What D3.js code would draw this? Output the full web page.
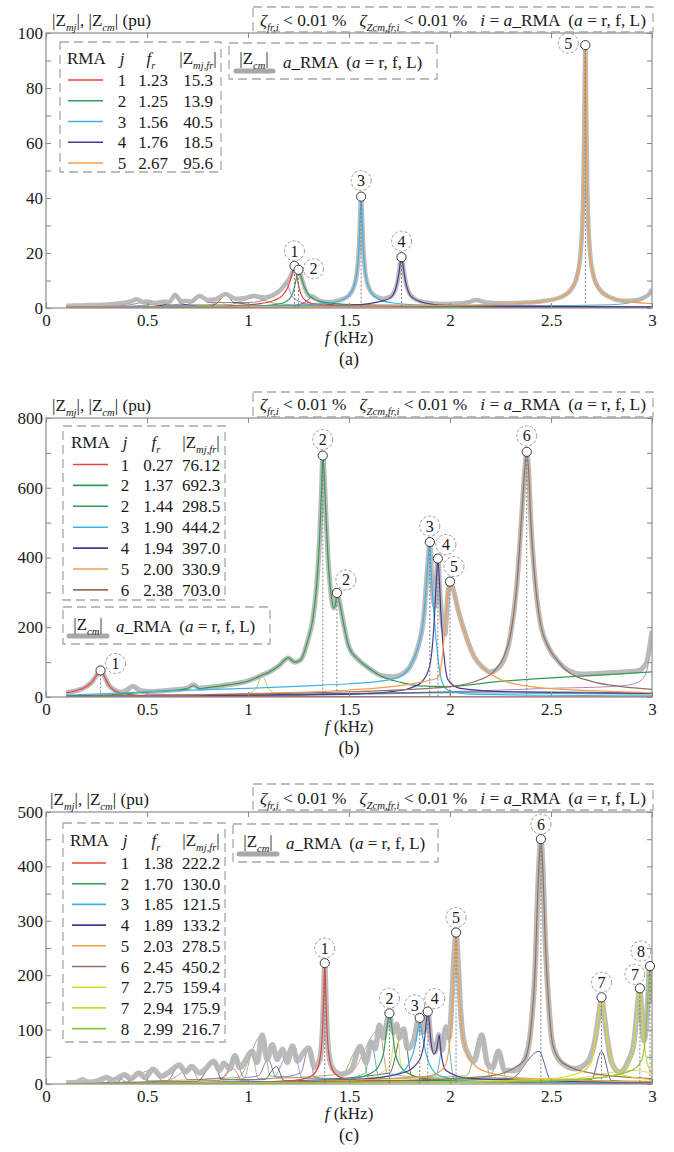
<!DOCTYPE html>
<html><head><meta charset="utf-8">
<script src="https://cdn.jsdelivr.net/npm/d3@7"></script>
<style>
body{margin:0;background:#fff}
svg text{font-family:"Liberation Serif","Times New Roman",serif;fill:#1a1a1a}
</style></head>
<body><svg id="chart" width="674" height="1152"></svg>
<script>
// ---------------- DATA ----------------
const xTicks = [0, 0.5, 1, 1.5, 2, 2.5, 3];
const xTickText = ["0", "0.5", "1", "1.5", "2", "2.5", "3"];

// Panel (a)
const aYMax = 100, aYMajor = [0, 20, 40, 60, 80, 100], aYMinorStep = 10;
const aRMA = [1, 2, 3, 4, 5];
const aFr = [1.23, 1.25, 1.56, 1.76, 2.67];
const aZfr = [15.3, 13.9, 40.5, 18.5, 95.6];
const aCurve1 = [[0.1,0.2],[0.6,0.4],[0.9,0.8],[1.05,1.5],[1.13,2.8],[1.17,4.5],[1.2,8],[1.215,11.5],[1.225,14.2],[1.23,15.3],[1.235,14.2],[1.245,10],[1.26,5.5],[1.28,3],[1.32,1.6],[1.45,0.8],[2,0.4],[3,0.2]];
const aCurve2 = [[0.1,0.2],[0.9,0.5],[1.1,1],[1.18,2],[1.22,5],[1.24,11],[1.25,13.9],[1.26,12],[1.28,7.5],[1.31,4],[1.35,2.5],[1.45,1.5],[1.6,1],[2,0.6],[3,0.4]];
const aCurve3 = [[0.1,0.3],[1.0,0.7],[1.3,1.2],[1.42,2],[1.48,3.5],[1.51,5.6],[1.53,9.2],[1.54,13.3],[1.55,23.2],[1.555,33],[1.56,40.5],[1.565,33],[1.57,23.2],[1.58,13.3],[1.59,9.2],[1.61,5.6],[1.64,3.5],[1.71,1.9],[1.9,1],[2.5,0.6],[3,0.5]];
const aCurve4 = [[0.1,0.2],[1.2,0.6],[1.5,1],[1.6,1.6],[1.66,2.5],[1.7,3.5],[1.72,5],[1.736,8.3],[1.748,13.1],[1.754,16.5],[1.76,18.5],[1.766,16.5],[1.772,13.1],[1.784,8.3],[1.8,5],[1.82,3.5],[1.86,2.2],[1.96,1.1],[2.3,0.6],[3,0.4]];
const aCurve5 = [[0.1,0.3],[0.8,0.4],[1.5,0.7],[2.0,1.0],[2.3,1.5],[2.45,2.2],[2.55,4.0],[2.6,6.8],[2.63,11.9],[2.645,18.7],[2.655,30.2],[2.66,42.7],[2.665,67.6],[2.6675,85.5],[2.67,95.6],[2.6725,85.5],[2.675,67.6],[2.68,42.7],[2.685,30.2],[2.695,18.7],[2.71,11.9],[2.74,6.8],[2.79,4.0],[2.88,2.3],[3.0,1.6]];
const aGray = [[0.1,0.8],[0.2,1.0],[0.3,1.3],[0.38,1.8],[0.42,2.4],[0.45,3.2],[0.48,2.2],[0.5,2.4],[0.54,1.8],[0.58,2.3],[0.61,2.2],[0.64,4.8],[0.67,2.3],[0.69,2.6],[0.72,2.4],[0.76,4.4],[0.8,3.0],[0.84,3.2],[0.89,5.1],[0.94,3.3],[0.98,3.6],[1.03,4.4],[1.08,3.8],[1.12,4.5],[1.16,6.5],[1.19,9.2],[1.21,11.5],[1.225,14.2],[1.23,15.3],[1.24,13.2],[1.25,13.9],[1.26,12],[1.28,7.5],[1.3,4.5],[1.32,4.2],[1.35,2.8],[1.4,2.2],[1.45,2.8],[1.48,3.6],[1.51,5.6],[1.53,9.2],[1.54,13.3],[1.55,23.2],[1.555,33],[1.56,40.5],[1.565,33],[1.57,23.2],[1.58,13.3],[1.59,9.2],[1.61,5.8],[1.64,4.0],[1.67,3.4],[1.7,4.0],[1.72,5.2],[1.736,8.3],[1.748,13.1],[1.754,16.5],[1.76,18.5],[1.766,16.5],[1.772,13.1],[1.784,8.3],[1.8,5.2],[1.82,3.6],[1.86,2.3],[1.95,1.5],[2.05,1.6],[2.1,2.3],[2.13,2.9],[2.17,2.2],[2.25,1.7],[2.35,1.9],[2.45,2.4],[2.55,4.0],[2.6,6.8],[2.63,11.9],[2.645,18.7],[2.655,30.2],[2.66,42.7],[2.665,67.6],[2.6675,85.5],[2.67,95.6],[2.6725,85.5],[2.675,67.6],[2.68,42.7],[2.685,30.2],[2.695,18.7],[2.71,11.9],[2.74,6.8],[2.79,4.0],[2.86,2.6],[2.92,2.8],[2.96,3.8],[2.99,5.5],[3.0,6.8]];
const aExtraGreen = [[0.1,0.3],[0.35,1],[0.42,2],[0.45,3.1],[0.48,1.5],[0.6,1],[0.67,1.6],[0.69,2.5],[0.72,1.2],[0.9,1.2],[0.99,3],[1.03,3.9],[1.07,3],[1.15,1.5],[1.4,0.8],[3,0.3]];
const aExtraPurple = [[0.1,0.2],[0.4,1],[0.5,2.2],[0.55,1],[0.7,1.2],[0.76,4.3],[0.8,2],[1.0,2],[1.12,4],[1.19,9],[1.22,4],[1.3,1.5],[2.0,1],[2.13,2.7],[2.2,1],[3,0.5]];
const aExtraBlack = [[0.5,0.3],[0.6,1.5],[0.64,5],[0.67,1.5],[0.8,0.6],[0.85,2],[0.89,5],[0.93,2],[1.2,0.6],[1.28,2],[1.32,4],[1.36,2],[1.5,0.5]];
const aExtraBlue = [[0.1,0.2],[0.5,1],[0.58,2],[0.62,1],[1.0,0.5],[3,0.3]];
const aExtraOlive = [[0.7,0.4],[0.8,1],[0.86,2.2],[0.9,1],[1.0,0.5]];
const aExtraTeal = [[0.1,0.1],[2.0,0.5],[2.8,1.2],[2.95,3],[3.0,6.5]];

// Panel (b)
const bYMax = 800, bYMajor = [0, 200, 400, 600, 800], bYMinorStep = 100;
const bRMA = [1, 2, 2, 3, 4, 5, 6];
const bFr = [0.27, 1.37, 1.44, 1.90, 1.94, 2.00, 2.38];
const bZfr = [76.12, 692.3, 298.5, 444.2, 397.0, 330.9, 703.0];
const bZfrText = ["76.12", "692.3", "298.5", "444.2", "397.0", "330.9", "703.0"];
const bCurveRed = [[0.1,12],[0.15,18],[0.2,30],[0.23,45],[0.25,62],[0.265,74],[0.27,76.1],[0.28,70],[0.29,58],[0.31,35],[0.34,18],[0.4,8],[0.5,4],[0.8,2],[1.5,1],[3,0.5]];
const bCurveGreen = [[0.1,3],[0.3,6],[0.45,12],[0.55,16],[0.65,20],[0.7,24],[0.73,33],[0.76,24],[0.8,27],[0.9,35],[1.0,45],[1.04,55],[1.07,63],[1.1,70],[1.15,88],[1.2,112],[1.23,100],[1.26,106],[1.3,170],[1.32,220],[1.34,320],[1.355,460],[1.365,610],[1.37,692.3],[1.375,660],[1.385,530],[1.395,410],[1.41,300],[1.425,255],[1.435,275],[1.44,298.5],[1.45,280],[1.47,220],[1.5,143],[1.55,105],[1.59,86],[1.67,57],[1.75,43],[1.85,32],[2.0,30],[2.2,42],[2.5,55],[2.8,65],[3.0,72]];
const bCurveBlue = [[0.1,5],[0.5,15],[1.0,25],[1.3,32],[1.5,38],[1.6,42],[1.7,50],[1.75,58],[1.8,85],[1.84,140],[1.87,230],[1.89,380],[1.9,444.2],[1.905,380],[1.915,280],[1.93,172],[1.945,90],[1.96,45],[1.99,20],[2.1,8],[2.5,5],[3,3]];
const bCurvePurple = [[0.1,2],[0.5,3],[1.0,5],[1.5,8],[1.7,15],[1.8,25],[1.86,43],[1.9,90],[1.92,200],[1.935,360],[1.94,397],[1.945,360],[1.955,240],[1.97,120],[1.99,50],[2.05,25],[2.3,15],[3,10]];
const bCurveOrange = [[0.1,1],[1.0,10],[1.5,20],[1.83,40],[1.94,55],[1.96,105],[1.98,230],[1.993,315],[2.0,330.9],[2.01,320],[2.04,250],[2.08,173],[2.12,115],[2.16,86],[2.25,50],[2.4,30],[2.7,18],[3,12]];
const bCurveBrown = [[0.1,1],[1.0,8],[1.5,15],[2.0,30],[2.15,50],[2.22,75],[2.27,120],[2.3,180],[2.33,316],[2.355,520],[2.37,650],[2.38,703],[2.39,640],[2.4,507],[2.42,340],[2.445,220],[2.49,140],[2.53,106],[2.59,70],[2.7,45],[2.85,30],[3,22]];
const bGray = [[0.1,12],[0.15,18],[0.2,30],[0.23,45],[0.25,62],[0.265,74],[0.27,76.1],[0.28,70],[0.29,58],[0.31,35],[0.34,20],[0.37,14],[0.4,20],[0.43,31],[0.47,18],[0.52,16],[0.6,19],[0.7,25],[0.73,35],[0.76,25],[0.8,27],[0.9,35],[1.0,46],[1.04,55],[1.07,63],[1.1,70],[1.15,88],[1.2,112],[1.23,100],[1.26,106],[1.3,170],[1.32,220],[1.34,320],[1.355,460],[1.365,610],[1.37,692.3],[1.375,660],[1.385,530],[1.395,410],[1.41,300],[1.425,255],[1.435,275],[1.44,298.5],[1.45,280],[1.47,220],[1.5,143],[1.55,105],[1.59,86],[1.67,60],[1.72,58],[1.76,65],[1.8,85],[1.84,140],[1.87,230],[1.89,380],[1.9,444.2],[1.91,330],[1.925,260],[1.935,360],[1.94,397],[1.95,300],[1.965,200],[1.975,180],[1.99,300],[2.0,330.9],[2.01,320],[2.04,250],[2.08,173],[2.12,115],[2.16,86],[2.2,72],[2.25,90],[2.3,180],[2.33,316],[2.355,520],[2.37,650],[2.38,703],[2.39,640],[2.4,507],[2.42,340],[2.445,220],[2.49,140],[2.53,106],[2.59,75],[2.65,66],[2.8,70],[2.93,75],[2.97,95],[3.0,190]];
const bExtraPurple = [[0.1,2],[0.35,5],[0.4,15],[0.43,31],[0.46,15],[0.5,8],[0.8,6],[1.5,10],[2.0,15],[2.5,25],[2.8,30],[2.9,36],[2.95,50],[2.98,90],[3.0,190]];
const bExtraOlive = [[0.8,3],[1.0,10],[1.04,25],[1.07,63],[1.1,25],[1.15,8],[1.3,3]];
const bExtraNavy = [[0.1,1],[1.0,6],[1.8,12],[2.2,15],[2.6,14],[3.0,12]];
const bExtraTeal = [[0.1,1],[0.9,4],[1.5,7],[2.0,12],[2.5,10],[3.0,8]];

// Panel (c)
const cYMax = 500, cYMajor = [0, 100, 200, 300, 400, 500], cYMinorStep = 50;
const cRMA = [1, 2, 3, 4, 5, 6, 7, 7, 8];
const cFr = [1.38, 1.70, 1.85, 1.89, 2.03, 2.45, 2.75, 2.94, 2.99];
const cZfr = [222.2, 130.0, 121.5, 133.2, 278.5, 450.2, 159.4, 175.9, 216.7];
const cCurve1 = [[0.1,0.5],[0.8,2],[1.2,6],[1.3,12],[1.34,25],[1.36,55],[1.37,110],[1.375,165],[1.38,222.2],[1.385,165],[1.39,110],[1.4,55],[1.42,25],[1.46,12],[1.6,5],[2,3],[3,1]];
const cCurve2 = [[0.1,0.5],[1.0,3],[1.4,6],[1.55,12],[1.63,25],[1.67,55],[1.69,110],[1.7,130],[1.71,110],[1.73,55],[1.77,25],[1.85,12],[2.0,6],[2.5,3],[3,2]];
const cCurve3 = [[0.1,0.5],[1.2,4],[1.6,10],[1.75,20],[1.8,40],[1.83,75],[1.845,110],[1.85,121.5],[1.855,110],[1.87,75],[1.9,35],[1.95,15],[2.1,6],[3,2]];
const cCurve4 = [[0.1,0.5],[1.2,4],[1.6,10],[1.78,22],[1.85,45],[1.875,85],[1.885,122],[1.89,133.2],[1.895,122],[1.905,80],[1.92,55],[1.935,65],[1.946,90],[1.955,60],[1.98,25],[2.1,10],[3,3]];
const cCurve5 = [[0.1,0.5],[1.0,3],[1.6,8],[1.9,15],[1.97,30],[2.0,80],[2.015,170],[2.025,250],[2.03,278.5],[2.035,250],[2.045,170],[2.06,100],[2.08,60],[2.12,35],[2.2,20],[2.4,10],[3,4]];
const cCurve6 = [[0.1,0.5],[1.5,5],[2.0,10],[2.2,15],[2.32,30],[2.37,45],[2.4,100],[2.42,200],[2.44,400],[2.45,450.2],[2.46,390],[2.47,280],[2.49,140],[2.51,70],[2.56,38],[2.7,20],[3,10]];
const cCurve7 = [[0.1,0.3],[2.0,4],[2.5,10],[2.65,22],[2.7,40],[2.72,85],[2.74,135],[2.75,159.4],[2.76,135],[2.78,80],[2.8,40],[2.85,18],[2.95,10],[3,8]];
const cCurve7b = [[0.1,0.3],[2.0,3],[2.6,8],[2.8,15],[2.88,35],[2.91,75],[2.925,130],[2.935,165],[2.94,175.9],[2.945,155],[2.955,100],[2.97,50],[2.99,25],[3,20]];
const cCurve8 = [[0.1,0.3],[2.2,4],[2.7,10],[2.9,25],[2.95,45],[2.97,100],[2.98,160],[2.99,216.7],[2.995,190],[3.0,150]];
const cGray = [[0.1,2],[0.15,3],[0.18,8],[0.21,3],[0.26,6],[0.3,12],[0.33,7],[0.36,12],[0.39,17],[0.42,10],[0.46,20],[0.49,12],[0.53,27],[0.57,14],[0.61,22],[0.66,35],[0.69,22],[0.72,32],[0.76,20],[0.79,28],[0.83,42],[0.86,25],[0.88,38],[0.91,28],[0.935,52],[0.96,30],[0.99,45],[1.02,60],[1.045,40],[1.07,90],[1.095,45],[1.12,72],[1.145,45],[1.17,64],[1.195,40],[1.22,70],[1.245,42],[1.27,55],[1.3,66],[1.33,30],[1.355,45],[1.37,110],[1.375,165],[1.38,222.2],[1.385,165],[1.39,110],[1.4,55],[1.42,28],[1.46,18],[1.51,25],[1.555,69],[1.585,40],[1.61,77],[1.63,65],[1.65,108],[1.67,85],[1.69,118],[1.7,130],[1.71,108],[1.72,95],[1.736,110],[1.75,85],[1.77,101],[1.79,65],[1.82,80],[1.84,115],[1.85,121.5],[1.86,95],[1.875,100],[1.89,133.2],[1.905,80],[1.925,60],[1.946,90],[1.96,62],[1.98,105],[1.995,85],[2.01,160],[2.02,235],[2.03,278.5],[2.04,225],[2.05,150],[2.065,85],[2.09,55],[2.12,42],[2.157,90],[2.185,38],[2.21,30],[2.24,60],[2.27,25],[2.32,25],[2.37,45],[2.4,100],[2.42,200],[2.44,400],[2.45,450.2],[2.46,390],[2.47,280],[2.49,140],[2.51,70],[2.55,40],[2.62,28],[2.68,40],[2.72,85],[2.74,135],[2.75,159.4],[2.76,135],[2.78,80],[2.8,40],[2.84,22],[2.88,40],[2.91,75],[2.925,130],[2.935,165],[2.94,175.9],[2.95,115],[2.96,80],[2.97,100],[2.98,160],[2.99,216.7],[2.995,190],[3.0,150]];
const cExtraPurple = [[0.1,0],[0.3,3],[0.36,12],[0.4,3],[0.6,6],[0.66,33],[0.7,8],[0.88,12],[0.935,50],[0.98,12],[1.05,15],[1.1,45],[1.14,12],[1.26,20],[1.3,66],[1.33,12],[1.6,6],[2.0,4],[3,2]];
const cExtraOlive = [[0.1,0],[0.4,4],[0.46,20],[0.5,6],[0.95,12],[1.07,90],[1.11,15],[1.45,10],[1.555,69],[1.6,10],[2.08,15],[2.157,90],[2.2,12],[3,5]];
const cExtraBlack = [[0.2,0],[0.35,2],[0.39,15],[0.42,3],[0.75,5],[0.83,41],[0.87,8],[1.08,8],[1.14,32],[1.18,6],[1.7,20],[1.77,101],[1.81,15],[2.0,5],[3,2]];
const cExtraBlue = [[0.5,0],[1.12,10],[1.22,69],[1.27,10],[1.8,6],[2.2,12],[2.24,60],[2.28,10],[3,3]];
const cExtraTeal = [[1.4,3],[1.58,20],[1.61,77],[1.65,10],[1.93,15],[1.98,105],[2.02,10],[3,4]];
const cExtraTan = [[0.4,0],[0.6,6],[0.72,28],[0.76,6],[0.98,10],[1.02,55],[1.05,10],[1.5,20],[1.65,100],[1.69,20],[2.0,8]];
const cExtraNavy = [[0.1,0],[1.5,5],[2.3,10],[2.44,60],[2.5,8],[2.7,8],[2.75,60],[2.8,6],[3,3]];
const cExtraRed = [[0.4,0],[0.53,26],[0.58,4],[0.85,6],[0.93,28],[0.97,5],[1.2,3]];
const cExtraYellow = [[1.5,3],[1.7,30],[1.735,105],[1.76,30],[1.9,8],[2.6,10],[2.9,25],[3,20]];

// ---------------- STYLE / LAYOUT ----------------
const C = {red:"#e8453f", green:"#2f9d58", blue:"#3cb3e6", purple:"#4a3a8e", orange:"#f59e48",
  brown:"#94705a", yellow:"#e0d626", yellow2:"#d2d92e", lgreen:"#8cc63f"};
const FONT = '"Liberation Serif","Times New Roman",serif';
const X0 = 46, X1 = 652;

const panels = [
 { name:"(a)", top:33, bottom:308, ymax:aYMax, major:aYMajor, minor:aYMinorStep,
   rma:aRMA, fr:aFr, zfr:aZfr, ztext:aZfr.map(d=>d.toFixed(1)),
   curves:[aCurve1,aCurve2,aCurve3,aCurve4,aCurve5], colors:[C.red,C.green,C.blue,C.purple,C.orange],
   gray:aGray, grayW:4.5,
   extras:[[aExtraGreen,"#5fae4e"],[aExtraPurple,"#8a5aa8"],[aExtraBlack,"#333"],[aExtraBlue,"#4a7fc0"],[aExtraOlive,"#b8a030"],[aExtraTeal,"#2a9a96"]],
   offsets:[[0,-15],[15,-1],[0,-16],[0,-16],[-17,-2]],
   zeta:{box:[253,7,653,32], base:26},
   ylab:{x:52, y:26},
   leg:{box:[60,42,221,172], head:64, row0:86, step:20.75, line:[68,103], rma:67, j:122, f:153, z:198},
   leg2:{box:[229,43,437,79], line:[236,273,71], zc:[254,64], ar:[283,68]} },
 { name:"(b)", top:418, bottom:697, ymax:bYMax, major:bYMajor, minor:bYMinorStep,
   rma:bRMA, fr:bFr, zfr:bZfr, ztext:bZfrText,
   curves:[bCurveRed,bCurveGreen,bCurveGreen,bCurveBlue,bCurvePurple,bCurveOrange,bCurveBrown],
   colors:[C.red,C.green,C.green,C.blue,C.purple,C.orange,C.brown],
   gray:bGray, grayW:5,
   extras:[[bExtraPurple,"#9b5fb5"],[bExtraOlive,"#b5b04a"],[bExtraNavy,"#2b3a7a"],[bExtraTeal,"#2a9a96"]],
   offsets:[[15,-7],[0,-16],[9,-13],[0,-16],[8,-14],[4,-15],[0,-16]],
   zeta:{box:[253,392,653,417], base:410},
   ylab:{x:52, y:411},
   leg:{box:[63,426,225,600], head:448, row0:470.5, step:20.9, line:[73,108], rma:71, j:125, f:158, z:201},
   leg2:{box:[63,607,270,644], line:[69,107,636], zc:[88,630], ar:[116,632]} },
 { name:"(c)", top:812, bottom:1084, ymax:cYMax, major:cYMajor, minor:cYMinorStep,
   rma:cRMA, fr:cFr, zfr:cZfr, ztext:cZfr.map(d=>d.toFixed(1)),
   curves:[cCurve1,cCurve2,cCurve3,cCurve4,cCurve5,cCurve6,cCurve7,cCurve7b,cCurve8],
   colors:[C.red,C.green,C.blue,C.purple,C.orange,C.brown,C.yellow,C.yellow2,C.lgreen],
   gray:cGray, grayW:5.5,
   extras:[[cExtraPurple,"#7b4fa3"],[cExtraOlive,"#6aa84f"],[cExtraBlack,"#333"],[cExtraBlue,"#5b8fd0"],[cExtraTeal,"#2aa198"],[cExtraTan,"#b08a60"],[cExtraNavy,"#1f2d7b"],[cExtraRed,"#e06050"],[cExtraYellow,"#d8d030"]],
   offsets:[[0,-15],[0,-15],[-5,-13],[7,-13],[0,-15],[0,-15],[0,-15],[-5,-14],[-9,-15]],
   zeta:{box:[253,784,653,810], base:804},
   ylab:{x:50, y:805},
   leg:{box:[63,823,225,1042], head:846, row0:869, step:20.7, line:[72,106], rma:70, j:125, f:158, z:201},
   leg2:{box:[233,824,438,862], line:[239,277,854], zc:[258,847], ar:[286,849]} }
];

// ---------------- HELPERS ----------------
const svg = d3.select("#chart");
function rich(g, x, y, parts, o = {}) {
  const fs = o.fs || 17;
  const t = g.append("text").attr("x", x).attr("y", y).attr("font-size", fs)
    .attr("text-anchor", o.anchor || "start").style("white-space", "pre");
  let sub = false;
  parts.forEach(p => {
    const s = t.append("tspan").text(p.t);
    if (p.i) s.attr("font-style", "italic");
    if (p.s && !sub) { s.attr("dy", fs * 0.3); sub = true; }
    else if (!p.s && sub) { s.attr("dy", -fs * 0.3); sub = false; }
    if (p.s) s.attr("font-size", fs * 0.62);
  });
  if (o.len) t.attr("textLength", o.len).attr("lengthAdjust", "spacingAndGlyphs");
  return t;
}
function dashedBox(g, b) {
  g.append("rect").attr("x", b[0]).attr("y", b[1]).attr("width", b[2] - b[0]).attr("height", b[3] - b[1])
    .attr("fill", "none").attr("stroke", "#a8a8a8").attr("stroke-width", 1.3).attr("stroke-dasharray", "9,5");
}

// ---------------- DRAW ----------------
panels.forEach((P, pi) => {
  const g = svg.append("g");
  const x = d3.scaleLinear().domain([0, 3]).range([X0, X1]);
  const y = d3.scaleLinear().domain([0, P.ymax]).range([P.bottom, P.top]);
  const line = d3.line().x(d => x(d[0])).y(d => y(d[1])).curve(d3.curveMonotoneX);
  const clipId = "clip" + pi;
  g.append("clipPath").attr("id", clipId).append("rect")
    .attr("x", X0).attr("y", P.top).attr("width", X1 - X0).attr("height", P.bottom - P.top);
  const plot = g.append("g").attr("clip-path", `url(#${clipId})`);

  // background thin curves
  P.extras.forEach(([data, col]) => {
    plot.append("path").datum(data).attr("d", line).attr("fill", "none")
      .attr("stroke", col).attr("stroke-width", 0.9).attr("opacity", 0.85);
  });
  // thick gray |Zcm|
  plot.append("path").datum(P.gray).attr("d", line).attr("fill", "none")
    .attr("stroke", "#b4b4b4").attr("stroke-width", P.grayW).attr("stroke-linejoin", "round")
    .attr("opacity", 0.9);
  // modal curves
  const drawn = new Set();
  P.curves.forEach((c, i) => {
    if (drawn.has(c)) return; drawn.add(c);
    plot.append("path").datum(c).attr("d", line).attr("fill", "none")
      .attr("stroke", P.colors[i]).attr("stroke-width", 1.2);
  });
  // dashed verticals
  P.fr.forEach((f, i) => {
    g.append("line").attr("x1", x(f)).attr("x2", x(f)).attr("y1", y(P.zfr[i]) + 4).attr("y2", P.bottom)
      .attr("stroke", "#666").attr("stroke-width", 0.8).attr("stroke-dasharray", "2,2");
  });

  // frame and axes
  g.append("rect").attr("x", X0).attr("y", P.top).attr("width", X1 - X0).attr("height", P.bottom - P.top)
    .attr("fill", "none").attr("stroke", "#8c8c8c").attr("stroke-width", 1.2);
  const minorTicks = d3.range(0, P.ymax + 0.001, P.minor);
  const styleAxis = sel => {
    sel.select(".domain").remove();
    sel.selectAll(".tick line").attr("stroke", "#8c8c8c").attr("stroke-width", 1.1);
    sel.selectAll("text").attr("font-family", FONT).attr("font-size", 17).attr("fill", "#1a1a1a");
    sel.attr("font-family", FONT);
  };
  g.append("g").attr("transform", `translate(0,${P.bottom})`)
    .call(d3.axisBottom(x).tickValues(xTicks).tickFormat((d, i) => xTickText[i]).tickSize(-5).tickPadding(6))
    .call(styleAxis);
  g.append("g").attr("transform", `translate(0,${P.top})`)
    .call(d3.axisTop(x).tickValues(xTicks).tickFormat("").tickSize(-5)).call(styleAxis);
  g.append("g").attr("transform", `translate(${X0},0)`)
    .call(d3.axisLeft(y).tickValues(minorTicks).tickFormat(d => P.major.includes(d) ? String(d) : "").tickSize(-5).tickPadding(3))
    .call(styleAxis);
  g.append("g").attr("transform", `translate(${X1},0)`)
    .call(d3.axisRight(y).tickValues(minorTicks).tickFormat("").tickSize(-5)).call(styleAxis);

  // peak markers and labels
  P.fr.forEach((f, i) => {
    const cx = x(f), cy = y(P.zfr[i]);
    g.append("circle").attr("cx", cx).attr("cy", cy).attr("r", 4.6)
      .attr("fill", "#fff").attr("stroke", "#3a3a3a").attr("stroke-width", 1);
    const lx = cx + P.offsets[i][0], ly = cy + P.offsets[i][1];
    g.append("circle").attr("cx", lx).attr("cy", ly).attr("r", 10)
      .attr("fill", "none").attr("stroke", "#9a9a9a").attr("stroke-width", 1).attr("stroke-dasharray", "3,2");
    g.append("text").attr("x", lx).attr("y", ly).attr("dy", "0.35em").attr("text-anchor", "middle")
      .attr("font-size", 16).text(P.rma[i]);
  });

  // axis titles
  rich(g, P.ylab.x, P.ylab.y, [{t:"|Z"},{t:"mj",s:1,i:1},{t:"|, |Z"},{t:"cm",s:1,i:1},{t:"| (pu)"}], {len:99});
  rich(g, 349, P.bottom + 35, [{t:"f",i:1},{t:" (kHz)"}], {anchor:"middle"});
  g.append("text").attr("x", 349).attr("y", P.bottom + 57).attr("text-anchor", "middle")
    .attr("font-size", 18).text(P.name);

  // zeta box
  dashedBox(g, P.zeta.box);
  rich(g, P.zeta.box[0] + 7, P.zeta.base,
    [{t:"ζ",i:1},{t:"fr,i",s:1,i:1},{t:" < 0.01 %   "},{t:"ζ",i:1},{t:"Zcm,fr,i",s:1,i:1},{t:" < 0.01 %   "},
     {t:"i",i:1},{t:" = "},{t:"a",i:1},{t:"_RMA  ("},{t:"a",i:1},{t:" = r, f, L)"}], {len:386});

  // legend table
  const L = P.leg;
  dashedBox(g, L.box);
  g.append("text").attr("x", L.rma).attr("y", L.head).attr("font-size", 17).text("RMA");
  g.append("text").attr("x", L.j).attr("y", L.head).attr("font-size", 17).attr("text-anchor", "middle")
    .attr("font-style", "italic").text("j");
  rich(g, L.f - 2, L.head, [{t:"f",i:1},{t:"r",s:1,i:1}], {anchor:"middle"});
  rich(g, L.z, L.head, [{t:"|Z"},{t:"mj,fr",s:1,i:1},{t:"|"}], {anchor:"middle"});
  P.rma.forEach((r, i) => {
    const by = L.row0 + i * L.step;
    g.append("line").attr("x1", L.line[0]).attr("x2", L.line[1]).attr("y1", by - 6).attr("y2", by - 6)
      .attr("stroke", P.colors[i]).attr("stroke-width", 1.6);
    g.append("text").attr("x", L.j).attr("y", by).attr("font-size", 17).attr("text-anchor", "middle").text(r);
    g.append("text").attr("x", L.f).attr("y", by).attr("font-size", 17).attr("text-anchor", "middle").text(P.fr[i].toFixed(2));
    g.append("text").attr("x", L.z).attr("y", by).attr("font-size", 17).attr("text-anchor", "middle").text(P.ztext[i]);
  });

  // legend |Zcm|
  const L2 = P.leg2;
  dashedBox(g, L2.box);
  g.append("line").attr("x1", L2.line[0]).attr("x2", L2.line[1]).attr("y1", L2.line[2]).attr("y2", L2.line[2])
    .attr("stroke", "#a8a8a8").attr("stroke-width", 5).attr("stroke-linecap", "round");
  rich(g, L2.zc[0], L2.zc[1], [{t:"|Z"},{t:"cm",s:1,i:1},{t:"|"}], {anchor:"middle"});
  rich(g, L2.ar[0], L2.ar[1], [{t:"a",i:1},{t:"_RMA  ("},{t:"a",i:1},{t:" = r, f, L)"}]);
});
</script></body></html>
